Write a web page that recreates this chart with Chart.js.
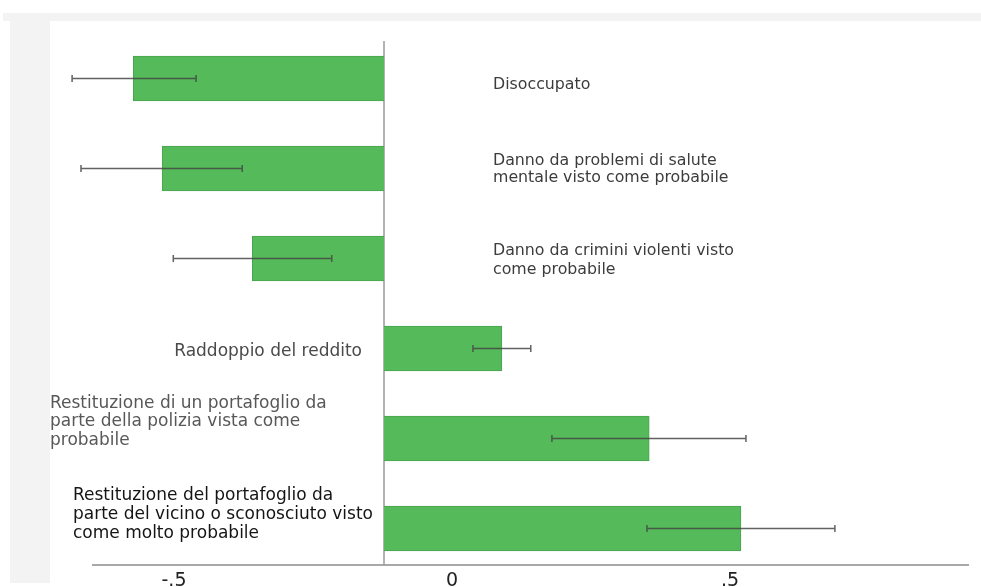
<!DOCTYPE html>
<html>
<head>
<meta charset="utf-8">
<script src="https://cdn.jsdelivr.net/npm/chart.js@4/dist/chart.umd.min.js"></script>
<style>
html,body{margin:0;padding:0;background:#fff;overflow:hidden;}
#wrap{position:relative;width:981px;height:587px;}
.band{position:absolute;background:#f3f3f3;}
canvas{position:absolute;left:0;top:0;}
</style>
</head>
<body>
<div id="wrap">
  <div class="band" style="left:3px;top:13px;width:978px;height:8px"></div>
  <div class="band" style="left:10px;top:13px;width:40px;height:570px"></div>
  <canvas id="c" width="981" height="587"></canvas>
</div>
<script>
// ---- data ----
const categories = [
  ["Disoccupato"],
  ["Danno da problemi di salute", "mentale visto come probabile"],
  ["Danno da crimini violenti visto", "come probabile"],
  ["Raddoppio del reddito"],
  ["Restituzione di un portafoglio da", "parte della polizia vista come", "probabile"],
  ["Restituzione del portafoglio da", "parte del vicino o sconosciuto visto", "come molto probabile"]
];
const coefficients = [-0.451, -0.399, -0.237, 0.212, 0.477, 0.642];
const ciLower      = [-0.561, -0.545, -0.379, 0.160, 0.302, 0.473];
const ciUpper      = [-0.338, -0.255, -0.094, 0.264, 0.651, 0.811];
const tickValues = [-0.5, 0, 0.5];
const tickLabels = ["-.5", "0", ".5"];

// ---- layout / style (not data) ----
const labelLayout = [
  {dx: 109,  align: 'left',  size: 15.8, lh: 16,   color: '#3c3c3c', dy: 5},
  {dx: 109,  align: 'left',  size: 15.8, lh: 16.5, color: '#3c3c3c', dy: -1},
  {dx: 109,  align: 'left',  size: 15.8, lh: 19,   color: '#3c3c3c', dy: 0},
  {dx: -22,  align: 'right', size: 17,   lh: 18,   color: '#4a4a4a', dy: 1.5},
  {dx: -334, align: 'left',  size: 17,   lh: 18.5, color: '#585858', dy: -18.3},
  {dx: -311, align: 'left',  size: 17,   lh: 19,   color: '#151515', dy: -15.7}
];
const FONT = '"DejaVu Sans", Verdana, sans-serif';

const overlay = {
  id: 'overlay',
  beforeDatasetsDraw(chart) {
    const {ctx, chartArea, scales} = chart;
    const x0 = scales.x.getPixelForValue(0);
    ctx.save();
    ctx.strokeStyle = '#9a9a9a';
    ctx.lineWidth = 1.5;
    ctx.beginPath();
    ctx.moveTo(x0, chartArea.top);
    ctx.lineTo(x0, chartArea.bottom);
    ctx.stroke();
    ctx.restore();
  },
  afterDatasetsDraw(chart) {
    const {ctx, scales} = chart;
    const xs = scales.x, ys = scales.y;
    const x0 = xs.getPixelForValue(0);
    ctx.save();
    // error bars
    ctx.strokeStyle = 'rgba(70,70,70,0.85)';
    ctx.lineWidth = 1.5;
    categories.forEach((c, i) => {
      const y = ys.getPixelForValue(i);
      const a = xs.getPixelForValue(ciLower[i]);
      const b = xs.getPixelForValue(ciUpper[i]);
      ctx.beginPath();
      ctx.moveTo(a, y); ctx.lineTo(b, y);
      ctx.moveTo(a, y - 3.5); ctx.lineTo(a, y + 3.5);
      ctx.moveTo(b, y - 3.5); ctx.lineTo(b, y + 3.5);
      ctx.stroke();
    });
    // category labels
    categories.forEach((lines, i) => {
      const L = labelLayout[i];
      const yc = ys.getPixelForValue(i) + L.dy;
      const cap = 0.729 * L.size;
      ctx.font = L.size + 'px ' + FONT;
      ctx.fillStyle = L.color;
      ctx.textAlign = L.align;
      ctx.textBaseline = 'alphabetic';
      const n = lines.length;
      lines.forEach((t, k) => {
        const yb = yc + (k - (n - 1) / 2) * L.lh + cap / 2;
        ctx.fillText(t, x0 + L.dx, yb);
      });
    });
    ctx.restore();
  }
};

new Chart(document.getElementById('c'), {
  type: 'bar',
  data: {
    datasets: [{
      data: coefficients.map((v, i) => ({x: v, y: i})),
      backgroundColor: '#55bb5a',
      borderColor: '#4aa34f',
      borderWidth: 1,
      barThickness: 45
    }]
  },
  options: {
    indexAxis: 'y',
    responsive: false,
    animation: false,
    layout: {padding: {left: 93, right: 13, top: 41, bottom: 0}},
    plugins: {legend: {display: false}, tooltip: {enabled: false}},
    scales: {
      y: {
        type: 'linear', reverse: true, offset: false, display: false,
        min: -0.4167, max: 5.4056,
        grid: {display: false}
      },
      x: {
        type: 'linear', display: false, min: -0.5234, max: 1.0504,
        grid: {display: false}
      },
      x2: {
        type: 'linear', position: 'bottom', axis: 'x',
        min: -0.6457, max: 0.9281,
        grid: {display: true, drawOnChartArea: false, drawTicks: false, color: 'rgba(0,0,0,0)'},
        border: {display: true, color: '#a8a8a8', width: 2},
        afterBuildTicks(scale) { scale.ticks = tickValues.map(v => ({value: v})); },
        afterFit(scale) { scale.height = 22; },
        ticks: {
          autoSkip: false, maxRotation: 0, padding: 5,
          color: '#222',
          font: {family: FONT, size: 19},
          callback: (v, idx) => tickLabels[idx]
        }
      }
    }
  },
  plugins: [overlay]
});
</script>
</body>
</html>
